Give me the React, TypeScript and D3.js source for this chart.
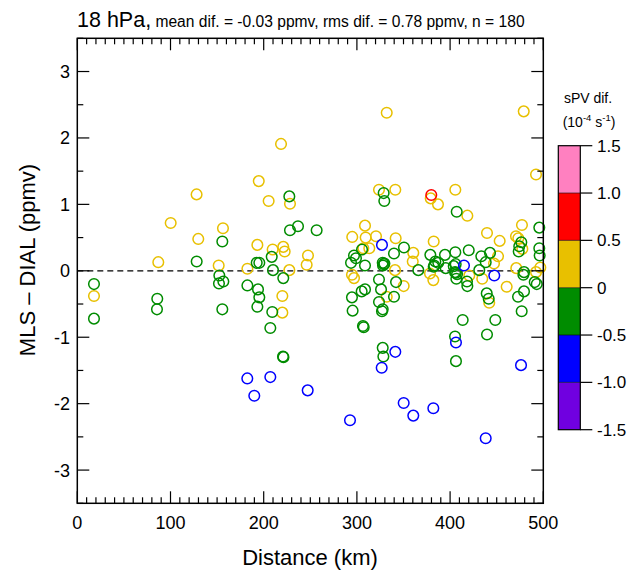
import React from "react";
import * as d3 from "d3";

// ---- data ----
// yellow points: sPV dif. between 0 and 0.5
const yellowDist = [218.6, 194.7, 128, 205.3, 228.2, 100.2, 156.3, 129.8, 193.2, 209.6, 221, 222.5, 247.5, 246.1, 86.9, 151.7, 182.5, 227.5, 17.9, 220, 220,
  332, 479, 492.2, 323.7, 341.2, 379.2, 387, 405.6, 418.5, 308.7, 295, 309.4, 320.5, 341.6, 306.9, 313.3, 340.9, 360.5, 359.9, 382.4,
  378.4, 382, 420.6, 439.6, 451.4, 453.2, 447.1, 434.5, 460.7, 470.7, 473.2, 477.1, 477.5, 471, 492.2, 496.8, 294.7, 296.9, 350.2, 332, 442];
const yellowDiff = [1.91, 1.35, 1.15, 1.05, 1.01, 0.72, 0.64, 0.48, 0.39, 0.32, 0.36, 0.29, 0.23, 0.09, 0.13, 0.08, 0.03, 0.01, -0.38, -0.38, -0.63,
  2.38, 2.40, 1.45, 1.22, 1.22, 1.09, 1.0, 1.22, 0.83, 0.68, 0.51, 0.5, 0.52, 0.49, 0.34, 0.34, 0.01, 0.27, 0.14, 0.44,
  -0.04, -0.14, -0.07, 0.57, 0.22, 0.45, 0.11, -0.12, -0.24, 0.52, 0.49, 0.69, 0.33, 0.04, -0.02, 0.05, -0.06, -0.11, -0.23, -0.39, -0.48];

// green points: sPV dif. between -0.5 and 0
const greenDist = [227.5, 228.2, 236.8, 256.8, 155.6, 208.6, 128.1, 192.5, 195.3, 210, 152.4, 221, 17.9, 152, 156.7, 182.5, 193.9, 17.9, 85.8, 85.5, 155.6, 195.3, 193.2, 209.2, 207.1, 220.7, 221.2,
  328.7, 329.4, 407.1, 305.5, 296.9, 299, 293.7, 308.7, 327.7, 329, 328, 339.8, 350.5, 365.9, 378.8, 383, 384.2, 387.3, 394.5, 395.3, 405.6,
  403.9, 406, 405.3, 406.7, 406.3, 418.1, 418.5, 420, 433.5, 442.8, 438.2, 431.3, 439.3, 441.4, 476.4, 474.2, 473.6, 479.3, 478.6, 495.7,
  495.7, 496.1, 490.8, 493, 479.3, 472.9, 323.7, 325.9, 342, 305.1, 308.7, 294.7, 295.4, 323.7, 339.8, 327.7, 326.9, 306.5, 307.3, 327.7,
  328.4, 413.5, 405.3, 406.3, 448.5, 439.6, 476.8, 382.4, 407.5, 329.5];
const greenDiff = [1.12, 0.61, 0.67, 0.61, 0.44, 0.21, 0.14, 0.12, 0.12, 0.01, -0.07, -0.11, -0.2, -0.19, -0.16, -0.22, -0.28, -0.72, -0.42, -0.58, -0.58, -0.4, -0.54, -0.62, -0.86, -1.29, -1.30,
  1.17, 1.05, 0.89, 0.32, 0.23, 0.19, 0.12, 0.08, 0.12, 0.1, 0.08, 0.26, 0.35, 0.01, 0.24, 0.08, 0.14, 0.12, 0.24, 0.04, 0.28,
  0.07, 0.1, -0.02, -0.12, -0.03, -0.16, -0.23, 0.31, 0.22, 0.27, 0.13, 0.01, -0.34, -0.42, 0.43, 0.37, 0.29, -0.02, -0.06, 0.65,
  0.34, 0.23, -0.17, -0.2, -0.31, -0.39, -0.13, -0.28, -0.17, -0.31, -0.28, -0.4, -0.6, -0.47, -0.39, -0.58, -0.61, -0.83, -0.85, -1.16,
  -1.29, -0.74, -0.99, -1.36, -0.74, -0.96, -0.61, 0.06, -0.05, 0.11];

// blue points: sPV dif. between -1.0 and -0.5
const blueDist = [326.9, 414.9, 447.4, 182.4, 207.1, 189.9, 247.2, 341.2, 326.6, 292.6, 350.2, 360.5, 382, 438.2, 476.1, 406.3];
const blueDiff = [0.39, 0.08, -0.07, -1.62, -1.6, -1.88, -1.8, -1.22, -1.46, -2.25, -1.99, -2.18, -2.07, -2.52, -1.42, -1.08];

// red points: sPV dif. between 0.5 and 1.0
const redDist = [379.8];
const redDiff = [1.14];

// sPV class value for each group (bin midpoint)
const groupSpv = { yellow: 0.25, green: -0.25, blue: -0.75, red: 0.75 };

const xTicks = [0, 100, 200, 300, 400, 500];
const yTicks = [-3, -2, -1, 0, 1, 2, 3];
const cbEdges = [-1.5, -1.0, -0.5, 0, 0.5, 1.0, 1.5];
const cbLabels = ["-1.5", "-1.0", "-0.5", "0", "0.5", "1.0", "1.5"];
const cbColors = ["#7000e0", "#0000ff", "#008c00", "#e8c000", "#ff0000", "#ff80c0"];

const FONT = "'Liberation Sans', Arial, Helvetica, sans-serif";

export default function App() {
  const left = 77.3, right = 543.3, top = 38.3, bottom = 503.3;
  const x = d3.scaleLinear().domain([0, 500]).range([left, right]);
  const y = d3.scaleLinear().domain([-3.5, 3.5]).range([bottom, top]);
  const color = d3.scaleThreshold<number, string>().domain([-1.0, -0.5, 0, 0.5, 1.0]).range(cbColors);

  const pts: { d: number; v: number; s: number }[] = [];
  const push = (ds: number[], vs: number[], s: number) => ds.forEach((d, i) => pts.push({ d, v: vs[i], s }));
  push(yellowDist, yellowDiff, groupSpv.yellow);
  push(greenDist, greenDiff, groupSpv.green);
  push(redDist, redDiff, groupSpv.red);
  push(blueDist, blueDiff, groupSpv.blue);

  const xMinor = d3.range(0, 501, 10);
  const yMinor = d3.range(-3.5, 3.51, 0.5);

  const cb = d3.scaleLinear().domain([-1.5, 1.5]).range([429.7, 145.7]);
  const cbL = 558.3, cbR = 580.3;

  return (
    <svg width={630} height={575} style={{ position: "absolute", left: 0, top: 0, background: "#fff" }} fontFamily={FONT}>
      <rect x={0} y={0} width={630} height={575} fill="#fff" />
      {/* title */}
      <text x={77} y={27} fontSize={21.5} fill="#000">
        18 hPa,<tspan fontSize={15.6}> mean dif. = -0.03 ppmv, rms dif. = 0.78 ppmv, n = 180</tspan>
      </text>

      {/* zero line */}
      <line x1={left} x2={right} y1={y(0)} y2={y(0)} stroke="#000" strokeWidth={1.3} strokeDasharray="6,4" />

      {/* points */}
      {pts.map((p, i) => (
        <circle key={i} cx={x(p.d)} cy={y(p.v)} r={5.3} fill="none" stroke={color(p.s)} strokeWidth={1.5} />
      ))}

      {/* frame */}
      <rect x={left} y={top} width={right - left} height={bottom - top} fill="none" stroke="#000" strokeWidth={1.5} />

      {/* x ticks */}
      {xMinor.map((t) => {
        const major = t % 100 === 0;
        const len = major ? 12 : 6;
        return (
          <g key={"xt" + t}>
            <line x1={x(t)} x2={x(t)} y1={bottom} y2={bottom - len} stroke="#000" strokeWidth={1.2} />
            <line x1={x(t)} x2={x(t)} y1={top} y2={top + len} stroke="#000" strokeWidth={1.2} />
          </g>
        );
      })}
      {xTicks.map((t) => (
        <text key={"xl" + t} x={x(t)} y={529} fontSize={18} textAnchor="middle" fill="#000">{t}</text>
      ))}

      {/* y ticks */}
      {yMinor.map((t) => {
        const major = Math.abs(t - Math.round(t)) < 1e-6;
        const len = major ? 12 : 6;
        return (
          <g key={"yt" + t}>
            <line x1={left} x2={left + len} y1={y(t)} y2={y(t)} stroke="#000" strokeWidth={1.2} />
            <line x1={right} x2={right - len} y1={y(t)} y2={y(t)} stroke="#000" strokeWidth={1.2} />
          </g>
        );
      })}
      {yTicks.map((t) => (
        <text key={"yl" + t} x={70} y={y(t) + 6.5} fontSize={18} textAnchor="end" fill="#000">{t}</text>
      ))}

      {/* axis titles */}
      <text x={310} y={565} fontSize={22} textAnchor="middle" fill="#000">Distance (km)</text>
      <text transform={`translate(35,260) rotate(-90)`} fontSize={22} textAnchor="middle" fill="#000">MLS – DIAL (ppmv)</text>

      {/* colorbar */}
      {cbColors.map((c, i) => (
        <rect key={"cb" + i} x={cbL} y={cb(cbEdges[i + 1])} width={cbR - cbL} height={cb(cbEdges[i]) - cb(cbEdges[i + 1])} fill={c} />
      ))}
      {cbEdges.slice(1, -1).map((e) => (
        <line key={"cbs" + e} x1={cbL} x2={cbR} y1={cb(e)} y2={cb(e)} stroke="#000" strokeWidth={0.6} />
      ))}
      <rect x={cbL} y={cb(1.5)} width={cbR - cbL} height={cb(-1.5) - cb(1.5)} fill="none" stroke="#000" strokeWidth={1.2} />
      {cbEdges.map((e, i) => (
        <g key={"cbt" + e}>
          <line x1={cbR} x2={cbR + 12} y1={cb(e)} y2={cb(e)} stroke="#000" strokeWidth={1.2} />
          <text x={597} y={cb(e) + 6} fontSize={17} fill="#000">{cbLabels[i]}</text>
        </g>
      ))}
      <text x={588} y={102.5} fontSize={14} textAnchor="middle" fill="#000">sPV dif.</text>
      <text x={589} y={126.5} fontSize={14} textAnchor="middle" fill="#000">
        (10<tspan fontSize={9.5} dy={-6}>-4</tspan><tspan dy={6}> s</tspan><tspan fontSize={9.5} dy={-6}>-1</tspan><tspan dy={6}>)</tspan>
      </text>
    </svg>
  );
}
